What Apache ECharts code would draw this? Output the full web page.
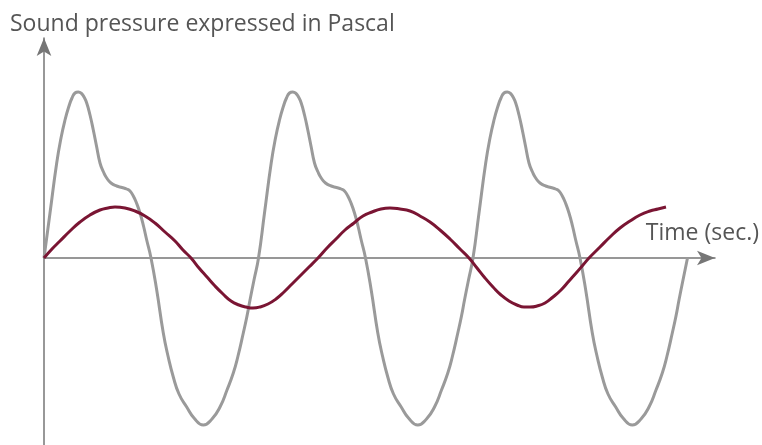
<!DOCTYPE html>
<html>
<head>
<meta charset="utf-8">
<script src="https://cdn.jsdelivr.net/npm/echarts@6/dist/echarts.min.js"></script>
<style>
    html, body { margin: 0; padding: 0; background: #fff; }
    #chart { width: 762px; height: 445px; }
</style>
</head>
<body>
<div id="chart"></div>
<script>
// [time, pressure], three periods of the complex wave
var complexWave = [
    [0, 0], [0.6, 0.45], [1.27, 0.95], [1.7, 1.2], [2.1, 1.38], [2.5, 1.52], [2.8, 1.6], [3.1, 1.65], [3.43, 1.66], [3.75, 1.645], [4.0, 1.61],
    [4.27, 1.55], [4.6, 1.43], [4.93, 1.28], [5.25, 1.12], [5.6, 0.95], [5.95, 0.86], [6.27, 0.8], [6.7, 0.75], [7.27, 0.72], [7.8, 0.705],
    [8.27, 0.69], [8.6, 0.67], [8.93, 0.62], [9.25, 0.55], [9.6, 0.45], [9.95, 0.32], [10.27, 0.18], [10.7, 0],
    [11.27, -0.32], [11.93, -0.75], [12.4, -0.98], [12.93, -1.19], [13.5, -1.36], [14.27, -1.49], [15.0, -1.6], [15.93, -1.67], [16.8, -1.61],
    [17.6, -1.49], [18.3, -1.32], [18.93, -1.15], [19.4, -0.98], [19.93, -0.75], [20.3, -0.58], [20.6, -0.42], [21.0, -0.22], [21.45, 0],

    [22.05, 0.45], [22.72, 0.95], [23.15, 1.2], [23.55, 1.38], [23.95, 1.52], [24.25, 1.6], [24.55, 1.65], [24.88, 1.66], [25.2, 1.645], [25.45, 1.61],
    [25.72, 1.55], [26.05, 1.43], [26.38, 1.28], [26.7, 1.12], [27.05, 0.95], [27.4, 0.86], [27.72, 0.8], [28.15, 0.75], [28.72, 0.72], [29.25, 0.705],
    [29.72, 0.69], [30.05, 0.67], [30.38, 0.62], [30.7, 0.55], [31.05, 0.45], [31.4, 0.32], [31.72, 0.18], [32.15, 0],
    [32.72, -0.32], [33.38, -0.75], [33.85, -0.98], [34.38, -1.19], [34.95, -1.36], [35.72, -1.49], [36.45, -1.6], [37.38, -1.67], [38.25, -1.61],
    [39.05, -1.49], [39.75, -1.32], [40.38, -1.15], [40.85, -0.98], [41.38, -0.75], [41.75, -0.58], [42.05, -0.42], [42.45, -0.22], [42.9, 0],

    [43.5, 0.45], [44.17, 0.95], [44.6, 1.2], [45.0, 1.38], [45.4, 1.52], [45.7, 1.6], [46.0, 1.65], [46.33, 1.66], [46.65, 1.645], [46.9, 1.61],
    [47.17, 1.55], [47.5, 1.43], [47.83, 1.28], [48.15, 1.12], [48.5, 0.95], [48.85, 0.86], [49.17, 0.8], [49.6, 0.75], [50.17, 0.72], [50.7, 0.705],
    [51.17, 0.69], [51.5, 0.67], [51.83, 0.62], [52.15, 0.55], [52.5, 0.45], [52.85, 0.32], [53.17, 0.18], [53.6, 0],
    [54.17, -0.32], [54.83, -0.75], [55.3, -0.98], [55.83, -1.19], [56.4, -1.36], [57.17, -1.49], [57.9, -1.6], [58.83, -1.67], [59.7, -1.61],
    [60.5, -1.49], [61.2, -1.32], [61.83, -1.15], [62.3, -0.98], [62.83, -0.75], [63.2, -0.58], [63.5, -0.42], [63.9, -0.22], [64.35, 0]
];

// [time, pressure] of the pure tone (red)
var pureTone = [
    [0, 0], [0.8, 0.09], [1.6, 0.17], [2.6, 0.27], [3.6, 0.36], [4.6, 0.43], [5.6, 0.48], [6.4, 0.5], [7.1, 0.51],
    [8.1, 0.5], [9.1, 0.47], [10.1, 0.42], [11.1, 0.35], [12.1, 0.26], [13.1, 0.17], [13.9, 0.08], [14.7, 0],
    [15.5, -0.1], [16.3, -0.19], [17.1, -0.28], [17.9, -0.36], [18.7, -0.43], [19.5, -0.47], [20.2, -0.49], [20.9, -0.5],
    [21.6, -0.49], [22.4, -0.46], [23.2, -0.41], [24.0, -0.34], [24.8, -0.26], [25.6, -0.18], [26.5, -0.09], [27.4, 0],
    [28.3, 0.1], [29.2, 0.19], [30.1, 0.28], [31.0, 0.35], [31.9, 0.42], [32.8, 0.46], [33.7, 0.49], [34.6, 0.5],
    [35.6, 0.49], [36.6, 0.47], [37.6, 0.42], [38.6, 0.36], [39.6, 0.28], [40.6, 0.19], [41.6, 0.09], [42.5, 0],
    [43.3, -0.1], [44.1, -0.2], [44.9, -0.29], [45.7, -0.37], [46.5, -0.43], [47.3, -0.47], [48.0, -0.49], [48.6, -0.49],
    [49.3, -0.48], [50.1, -0.45], [50.9, -0.39], [51.7, -0.32], [52.5, -0.23], [53.3, -0.14], [53.9, -0.07], [54.5, 0],
    [55.6, 0.11], [56.6, 0.21], [57.6, 0.3], [58.6, 0.37], [59.6, 0.43], [60.6, 0.47], [61.4, 0.49], [62.2, 0.51]
];

var yTitle = 'Sound pressure expressed in Pascal';
var xTitle = 'Time (sec.)';

var chart = echarts.init(document.getElementById('chart'));
var axisColor = '#767676';
var textStyle = { fontFamily: 'Open Sans', fontSize: 23, fontWeight: 'normal', color: '#555' };
var option = {
    animation: false,
    title: [
        { text: yTitle, left: 10, top: 13, padding: 0, textStyle: textStyle },
        { text: xTitle, right: 3, top: 222, padding: 0, textStyle: textStyle }
    ],
    grid: { left: 44, right: 47, top: 38, bottom: 0 },
    xAxis: {
        type: 'value',
        min: 0,
        max: 67.1,
        axisLine: {
            onZero: true,
            symbol: ['none', 'arrow'],
            symbolSize: [11, 18],
            lineStyle: { color: axisColor, width: 1.5 }
        },
        axisTick: { show: false },
        axisLabel: { show: false },
        splitLine: { show: false }
    },
    yAxis: {
        type: 'value',
        min: -1.87,
        max: 2.2,
        axisLine: {
            show: true,
            onZero: false,
            symbol: ['none', 'arrow'],
            symbolSize: [11, 18],
            lineStyle: { color: axisColor, width: 1.5 }
        },
        axisTick: { show: false },
        axisLabel: { show: false },
        splitLine: { show: false }
    },
    series: [
        {
            type: 'line',
            data: complexWave,
            smooth: 0.5,
            symbol: 'none',
            lineStyle: { color: '#9a9a9a', width: 3 }
        },
        {
            type: 'line',
            data: pureTone,
            smooth: 0.5,
            symbol: 'none',
            lineStyle: { color: '#7a1533', width: 3 }
        }
    ]
};
chart.setOption(option);
</script>
</body>
</html>
